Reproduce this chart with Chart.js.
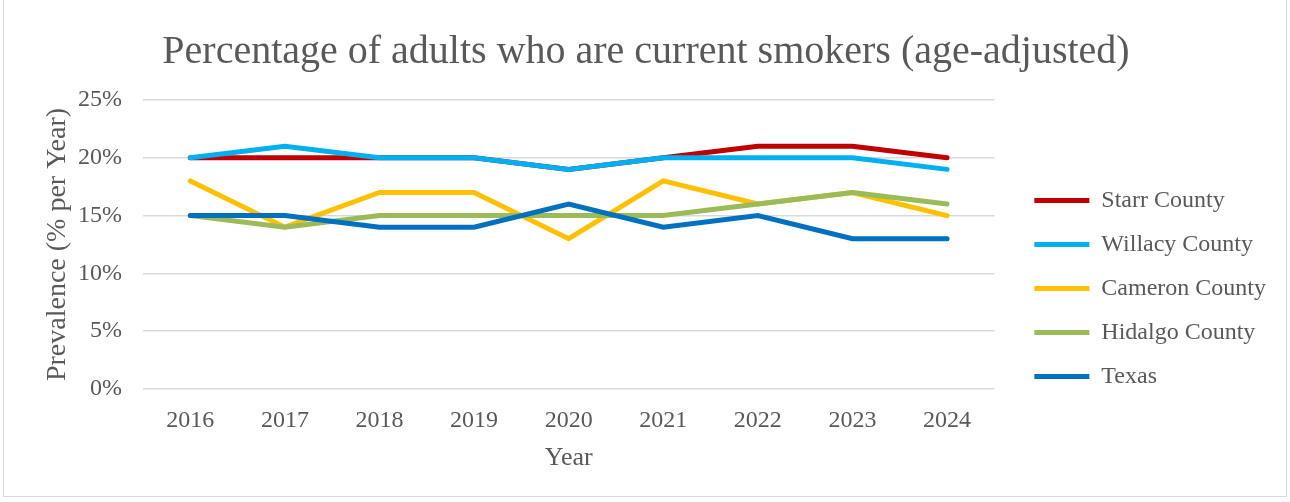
<!DOCTYPE html>
<html>
<head>
<meta charset="utf-8">
<script src="https://cdn.jsdelivr.net/npm/chart.js@4"></script>
<style>
  body { margin: 0; background: #fff; }
  #wrap { position: relative; width: 1290px; height: 502px; }
  #frame { position: absolute; left: 3px; top: 0; width: 1282px; height: 496px; border: 1px solid #d9d9d9; border-top: none; }
  canvas { position: absolute; left: 0; top: 0; }
</style>
</head>
<body>
<div id="wrap">
  <div id="frame"></div>
  <canvas id="myChart" width="1290" height="502"></canvas>
</div>
<script>
const years = ['2016', '2017', '2018', '2019', '2020', '2021', '2022', '2023', '2024'];
const starr = [20, 20, 20, 20, 19, 20, 21, 21, 20];
const willacy = [20, 21, 20, 20, 19, 20, 20, 20, 19];
const cameron = [18, 14, 17, 17, 13, 18, 16, 17, 15];
const hidalgo = [15, 14, 15, 15, 15, 15, 16, 17, 16];
const texas = [15, 15, 14, 14, 16, 14, 15, 13, 13];

const textColor = '#595959';
const fontFamily = '"Liberation Serif", "DejaVu Serif", serif';

function series(label, data, color, order) {
    return {
        label: label,
        data: data,
        borderColor: color,
        backgroundColor: color,
        borderWidth: 5,
        pointRadius: 0,
        tension: 0,
        borderCapStyle: 'round',
        order: order
    };
}

const ctx = document.getElementById('myChart').getContext('2d');
new Chart(ctx, {
    type: 'line',
    data: {
        labels: years,
        datasets: [
            series('Starr County', starr, '#C00000', 5),
            series('Willacy County', willacy, '#00B0F0', 4),
            series('Cameron County', cameron, '#FFC000', 3),
            series('Hidalgo County', hidalgo, '#9BBB59', 2),
            series('Texas', texas, '#0070C0', 1)
        ]
    },
    options: {
        responsive: false,
        animation: false,
        layout: { padding: { left: 16, right: 14, top: 18, bottom: 27 } },
        plugins: {
            title: {
                display: true,
                text: 'Percentage of adults who are current smokers (age-adjusted)',
                color: textColor,
                font: { family: fontFamily, size: 40, weight: 'normal' },
                padding: { top: 10, bottom: 24 }
            },
            legend: {
                position: 'right',
                maxWidth: 320,
                title: { display: true, text: ' ', font: { size: 10 }, padding: { top: 36, bottom: 36 } },
                labels: {
                    color: textColor,
                    font: { family: fontFamily, size: 24 },
                    usePointStyle: true,
                    pointStyle: 'line',
                    pointStyleWidth: 55,
                    boxHeight: 5,
                    padding: 20,
                    sort: (a, b) => a.datasetIndex - b.datasetIndex
                }
            },
            tooltip: { enabled: false }
        },
        scales: {
            x: {
                offset: true,
                grid: { display: false, drawTicks: false },
                border: { display: false },
                ticks: { color: textColor, font: { family: fontFamily, size: 24, lineHeight: 1 }, padding: 20 },
                title: { display: true, text: 'Year', color: textColor, font: { family: fontFamily, size: 26, lineHeight: 1 }, padding: { top: -8 } }
            },
            y: {
                min: 0,
                max: 25,
                afterFit: s => { s.width = 127; },
                grid: { color: '#d9d9d9', lineWidth: 1.5, drawTicks: false },
                border: { display: false },
                ticks: {
                    stepSize: 5,
                    color: textColor,
                    font: { family: fontFamily, size: 24 },
                    padding: 21,
                    callback: v => v + '%'
                },
                title: { display: true, text: 'Prevalence (% per Year)', color: textColor, font: { family: fontFamily, size: 28 }, padding: { top: 25, bottom: 0 } }
            },
            gap: {
                position: 'right',
                afterFit: s => { s.width = 20; },
                grid: { display: false },
                border: { display: false },
                ticks: { display: false }
            }
        }
    }
});
</script>
</body>
</html>
